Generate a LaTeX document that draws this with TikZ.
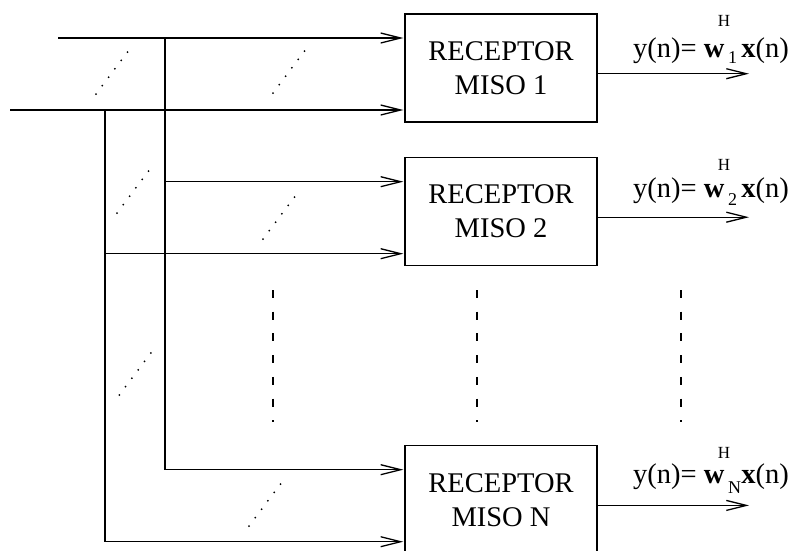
\documentclass[tikz,border=0pt]{standalone}
\usepackage{fontspec}
\setmainfont{Liberation Serif}
\usetikzlibrary{arrows.meta,calc}
\begin{document}
\begin{tikzpicture}[x=1pt,y=-1pt,
  wire/.style={line width=1.3pt},
  feed/.style={wire,-{Straight Barb[length=20pt,width=10pt]},shorten >=1pt},
  miso/.style={draw,line width=1.3pt,minimum width=192pt,minimum height=108pt,
    inner sep=0pt,align=center,font=\fontsize{28.5}{34}\selectfont},
  gapline/.style={line width=1.2pt,dash pattern=on 8pt off 13.7pt},
  lbl/.style={inner sep=0pt,font=\fontsize{28.5}{32}\selectfont},
  subl/.style={inner sep=0pt,font=\fontsize{18}{20}\selectfont},
  supl/.style={inner sep=0pt,font=\fontsize{17}{19}\selectfont}]
\useasboundingbox (0,0) rectangle (791,550);

% receiver blocks
\node[miso] (b1) at (501,68)    {RECEPTOR\\MISO 1};
\node[miso] (b2) at (501,211.5) {RECEPTOR\\MISO 2};
\node[miso] (b3) at (501,499.7) {RECEPTOR\\MISO N};

% input buses
\coordinate (t1) at (58,38);
\coordinate (t2) at (10,110);
\coordinate (j1) at (165,38);
\coordinate (j2) at (105,110);
\coordinate (m1) at (165,181.7);
\coordinate (m2) at (105,253.7);
\coordinate (k1) at (165,469.7);
\coordinate (k2) at (105,541.7);

\draw[feed] (t1) -- (t1 -| b1.west);
\draw[feed] (t2) -- (t2 -| b1.west);
\draw[feed] (m1) -- (m1 -| b2.west);
\draw[feed] (m2) -- (m2 -| b2.west);
\draw[feed] (j1) -- (k1) -- (k1 -| b3.west);
\draw[feed] (j2) -- (k2) -- (k2 -| b3.west);

% dotted marks standing for the remaining antenna inputs
\foreach \x/\y in {96/94, 273/93, 117/213, 263/239, 119.3/395, 249/526}
  \foreach \k in {0,...,5}
    \fill ({\x+6.3*\k},{\y-8.4*\k}) circle (1pt);

% vertical dashes between block 2 and block N
\foreach \x in {273,477,681}
  \draw[gapline] (\x,290) -- (\x,422);

% outputs with their labels
\coordinate (ox) at (750,0);
\foreach \b/\s/\bl/\hb/\sb in {b1/1/57/26/63, b2/2/197/170/205, b3/N/483/458/493}{
  \coordinate (\b o) at ([yshift=-5.7pt]\b.east);
  \draw[feed] (\b o) -- (\b o -| ox);
  \node[lbl,anchor=base west] (\b l) at (633,\bl) {y(n)= \textbf{w}};
  \node[lbl,anchor=base east] (\b x) at (789,\bl) {\textbf{x}(n)};
  \node[subl,anchor=base west] (\b i) at (728,\sb) {\s};
  \node[supl,anchor=base] (\b h) at (724,\hb) {H};
}
\end{tikzpicture}
\end{document}
